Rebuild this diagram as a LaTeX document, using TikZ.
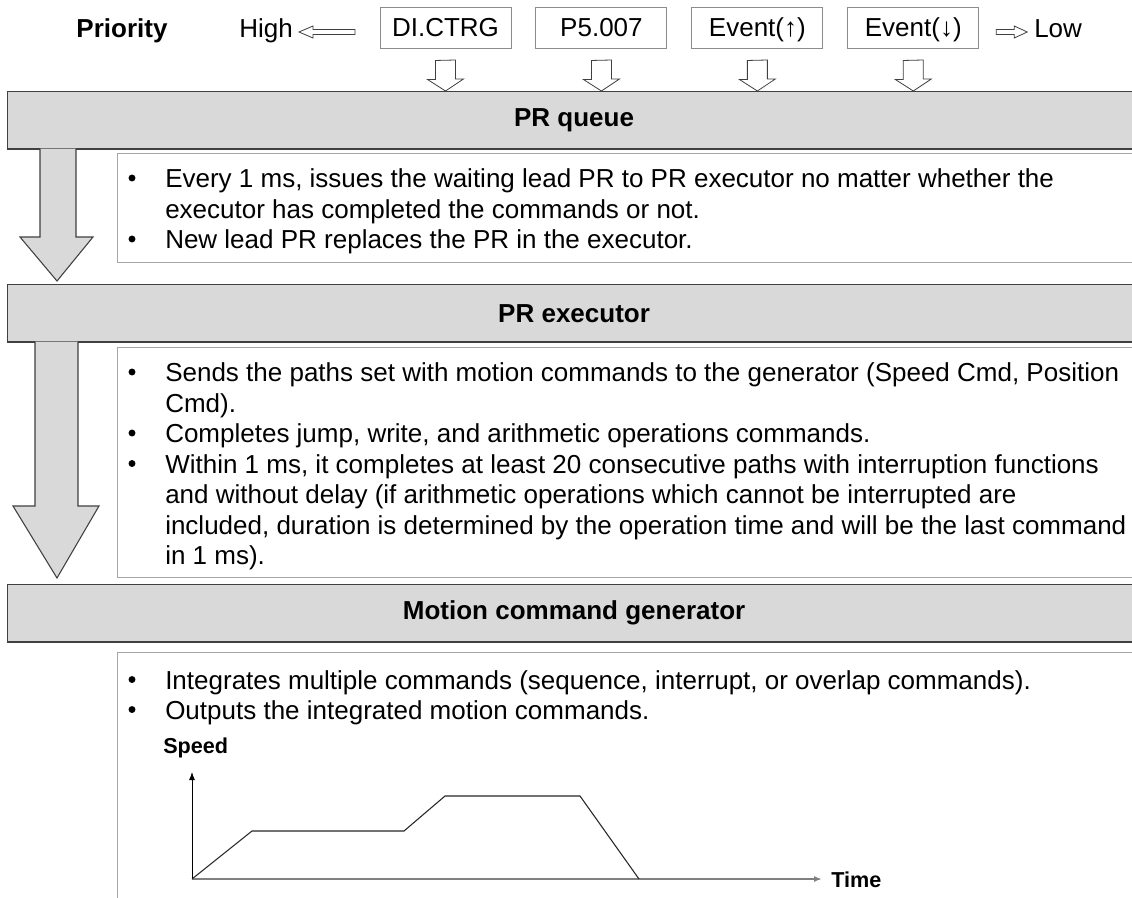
\documentclass[tikz,border=0pt]{standalone}
\usepackage{fontspec}
\setmainfont{Liberation Sans}
\usepackage{xcolor}
\usetikzlibrary{positioning,calc,arrows.meta}
\definecolor{barfill}{HTML}{D9D9D9}
\definecolor{barline}{HTML}{404040}
\definecolor{boxline}{HTML}{A6A6A6}
\definecolor{srcline}{HTML}{8C8C8C}
\definecolor{axisgray}{HTML}{808080}
\newcommand{\prfont}{\fontsize{19.5}{23}\selectfont}
\newcommand{\lblfont}{\fontsize{16.2}{19}\selectfont\bfseries}

\begin{document}
\begin{tikzpicture}[x=0.75pt, y=-0.75pt,
  bar/.style={draw=barline, fill=barfill, line width=0.9pt, anchor=north west, inner sep=0pt,
    minimum width=849.75pt, minimum height=43pt, font=\prfont\bfseries},
  txtbox/.style={draw=boxline, line width=0.9pt, anchor=north west, inner sep=0pt, minimum width=767.25pt},
  srcbox/.style={draw=srcline, line width=0.7pt, minimum width=98.25pt, minimum height=30.75pt, inner sep=0pt,
    text height=14pt, text depth=0pt, font=\prfont},
  txt/.style={font=\prfont, anchor=base west, inner sep=0pt},
  dot/.style={circle, fill=black, inner sep=0pt, minimum size=5.2pt},
  hollowarrow/.style={draw=barline, fill=white, line width=0.6pt, line join=miter},
  bigarrow/.style={draw=barline, fill=barfill, line width=0.8pt, line join=miter},
  profile/.style={draw=black!85, line width=0.8pt},
]
\useasboundingbox (0,0) rectangle (1132,897);
\fill[white] (0,0) rectangle (1132,897);

% priority row
\node[font=\prfont\bfseries, anchor=base, inner sep=0pt] (prio) at (122,37) {Priority};
\node[txt, anchor=base east] (high) at (293,37) {High};
\node[srcbox] (ctrg) at (445.5,27.5) {DI.CTRG};
\node[srcbox, right=18pt of ctrg] (pfive) {P5.007};
\node[srcbox, right=18pt of pfive] (evup) {Event(↑)};
\node[srcbox, right=18pt of evup] (evdown) {Event(↓)};
\node[txt] (low) at (1034,37) {Low};
\draw[hollowarrow] ($(high.base east)+(6,-5)$) -- ++(14,-6) -- ++(0,3.5) -- ++(42,0) -- ++(0,5)
  -- ++(-42,0) -- ++(0,3.5) -- cycle;
\draw[hollowarrow] ($(evdown.east)+(17,2)$) -- ++(18,0) -- ++(0,-3.5) -- ++(13,6) -- ++(-13,6)
  -- ++(0,-3.5) -- ++(-18,0) -- cycle;

% the three stages
\node[bar] (queue) at (7,91) {PR queue};
\node[bar] (exec) at (7,284) {PR executor};
\node[bar] (motion) at (7,584) {Motion command generator};

\foreach \b in {ctrg,pfive,evup,evdown} {
  \draw[hollowarrow] ($(\b.south)+(-10,12)$) -- ++(0,19) -- ++(-8,0) -- (\b.south |- queue.north)
    -- ++(18,-12) -- ++(-8,0) -- ++(0,-19) -- cycle;
}

% big arrows between the stages (open at the top so they join the bar)
\draw[bigarrow] ($(queue.south west)+(33,-1)$) -- ($(exec.north west)+(33,-47)$) -- ($(exec.north west)+(13,-47)$)
  -- ($(exec.north west)+(50,-3)$) -- ($(exec.north west)+(86,-47)$) -- ($(exec.north west)+(69,-47)$)
  -- ($(queue.south west)+(69,-1)$);
\draw[bigarrow] ($(exec.south west)+(28,-1)$) -- ($(motion.north west)+(28,-78)$) -- ($(motion.north west)+(6,-78)$)
  -- ($(motion.north west)+(50,-6)$) -- ($(motion.north west)+(92,-78)$) -- ($(motion.north west)+(71,-78)$)
  -- ($(exec.south west)+(71,-1)$);

% text boxes
\node[txtbox, minimum height=81.75pt] (queuebox) at (117,153) {};
\node[txtbox, minimum height=172.5pt] (execbox) at (117,347) {};
\node[txtbox, minimum height=195pt] (motionbox) at (117,652) {};

\foreach \y/\t [count=\i] in {%
  187.5/{Every 1 ms, issues the waiting lead PR to PR executor no matter whether the},
  218/{executor has completed the commands or not.},
  248.5/{New lead PR replaces the PR in the executor.}%
} {
  \node[txt] (qline\i) at (165,\y) {\t};
}
\node[dot] (qdot1) at ($(qline1.base west)+(-33,-9.5)$) {};
\node[dot] (qdot2) at ($(qline3.base west)+(-33,-9.5)$) {};

\foreach \y/\t [count=\i] in {%
  381.5/{Sends the paths set with motion commands to the generator (Speed Cmd, Position},
  412/{Cmd).},
  442.5/{Completes jump, write, and arithmetic operations commands.},
  473/{Within 1 ms, it completes at least 20 consecutive paths with interruption functions},
  503.5/{and without delay (if arithmetic operations which cannot be interrupted are},
  534/{included, duration is determined by the operation time and will be the last command},
  564.5/{in 1 ms).}%
} {
  \node[txt] (eline\i) at (165,\y) {\t};
}
\node[dot] (edot1) at ($(eline1.base west)+(-33,-9.5)$) {};
\node[dot] (edot2) at ($(eline3.base west)+(-33,-9.5)$) {};
\node[dot] (edot3) at ($(eline4.base west)+(-33,-9.5)$) {};

\foreach \y/\t [count=\i] in {%
  689/{Integrates multiple commands (sequence, interrupt, or overlap commands).},
  719/{Outputs the integrated motion commands.}%
} {
  \node[txt] (mline\i) at (165,\y) {\t};
}
\node[dot] (mdot1) at ($(mline1.base west)+(-33,-9.5)$) {};
\node[dot] (mdot2) at ($(mline2.base west)+(-33,-9.5)$) {};

% speed profile
\node[font=\lblfont, anchor=base west, inner sep=0pt] (speedlbl) at (163,753) {Speed};
\coordinate (origin) at (192,879);
\coordinate (ytop) at (192,772);
\coordinate (xend) at (822,879);
\draw[line width=0.7pt, -{Latex[length=6pt,width=4.5pt]}] (origin) -- (ytop);
\draw[axisgray, line width=1.3pt, -{Latex[length=6pt,width=4.5pt]}] (origin) -- (xend);
\node[font=\lblfont, anchor=base west, inner sep=0pt] (timelbl) at (831,887) {Time};
\draw[profile] (origin) -- (252,831) -- (404,831) -- (445,796) -- (580,796) -- (639,879);
\end{tikzpicture}
\end{document}
